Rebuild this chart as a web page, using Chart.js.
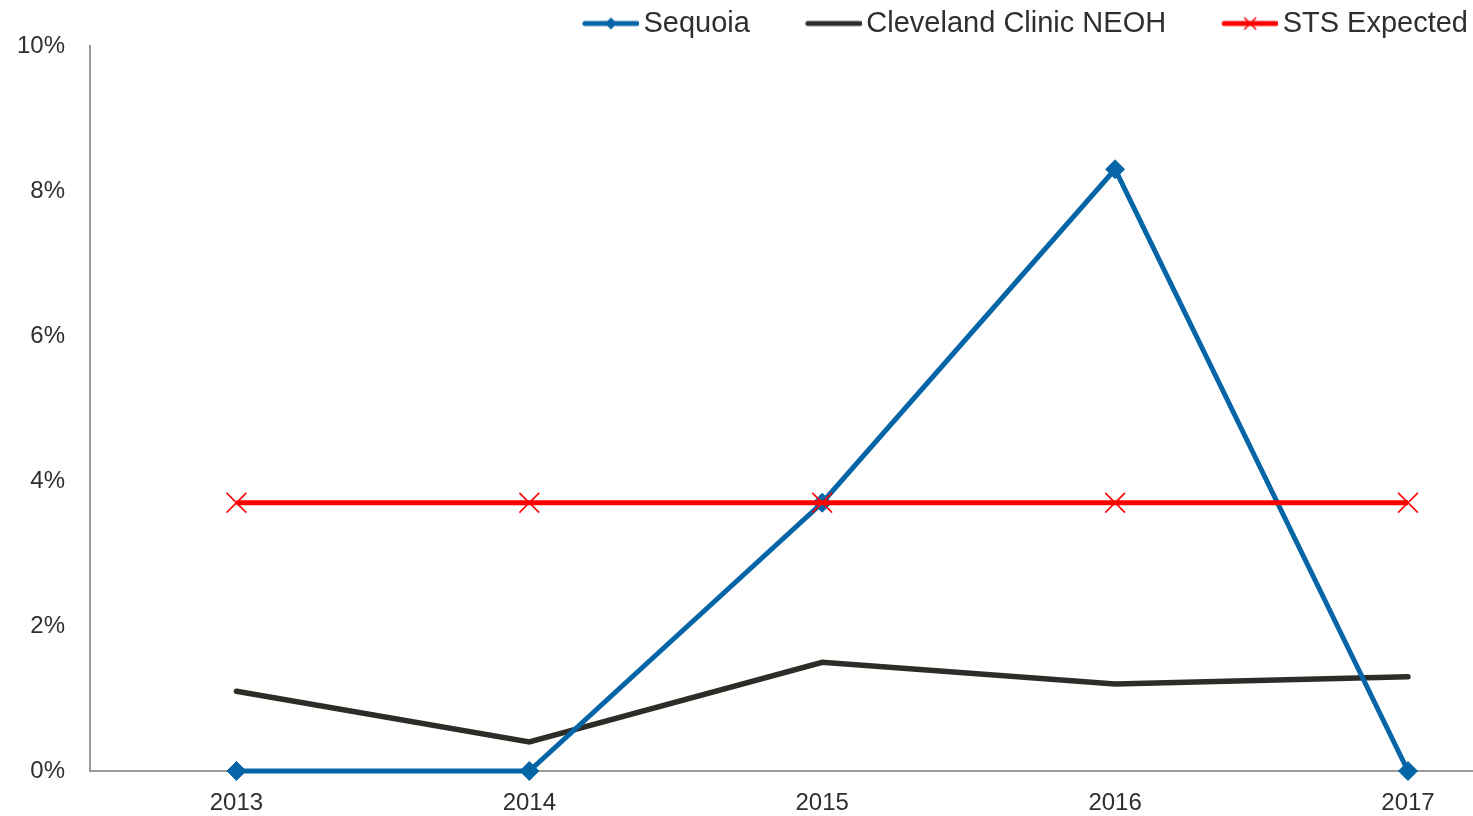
<!DOCTYPE html>
<html>
<head>
<meta charset="utf-8">
<script src="https://cdn.jsdelivr.net/npm/chart.js@4/dist/chart.umd.min.js"></script>
<style>
html,body{margin:0;padding:0;background:#fff;overflow:hidden;}
#wrap{width:1473px;height:816px;position:relative;}
</style>
</head>
<body>
<div id="wrap"><canvas id="c"></canvas></div>
<script>
const years = [2013, 2014, 2015, 2016, 2017];
const sequoia = [0, 0, 3.7, 8.3, 0];
const cleveland = [1.1, 0.4, 1.5, 1.2, 1.3];
const stsExpected = [3.7, 3.7, 3.7, 3.7, 3.7];
const yTicks = [0, 2, 4, 6, 8, 10];
const seriesNames = ['Sequoia', 'Cleveland Clinic NEOH', 'STS Expected'];

const BLUE = '#0565A7';
const DARK = '#2D2D28';
const RED = '#FF0000';
const TEXT = '#2F2F2F';
const AXIS = '#9A9A9A';
const FONT = "'Liberation Sans', Arial, sans-serif";

function pts(vals){ return years.map((y,i)=>({x:y, y:vals[i]})); }

function legendImg(color, marker){
  const W = 117, H = 24;
  const cv = document.createElement('canvas');
  cv.width = W; cv.height = H;
  const g = cv.getContext('2d');
  const x0 = 61, x1 = 117, cy = H/2;
  g.strokeStyle = color; g.lineWidth = 5; g.lineCap = 'round';
  g.beginPath(); g.moveTo(x0+2, cy); g.lineTo(x1-2, cy); g.stroke();
  const mx = (x0+x1)/2;
  if (marker === 'diamond') {
    g.fillStyle = color;
    g.beginPath(); g.moveTo(mx-6, cy); g.lineTo(mx, cy-6); g.lineTo(mx+6, cy); g.lineTo(mx, cy+6); g.closePath(); g.fill();
  } else if (marker === 'x') {
    g.lineWidth = 1.5; g.lineCap = 'butt';
    g.beginPath(); g.moveTo(mx-6, cy-6); g.lineTo(mx+6, cy+6); g.moveTo(mx+6, cy-6); g.lineTo(mx-6, cy+6); g.stroke();
  }
  return cv;
}
const legendImages = [legendImg(BLUE,'diamond'), legendImg(DARK,null), legendImg(RED,'x')];

const legendHeightTweak = {
  id: 'legendHeightTweak',
  afterInit(chart) {
    const lg = chart.legend;
    if (!lg) return;
    const orig = lg.fit;
    lg.fit = function () { orig.call(this); this.height -= 2; };
  }
};

new Chart(document.getElementById('c'), {
  type: 'line',
  data: {
    datasets: [
      { label: seriesNames[0], data: pts(sequoia), borderColor: BLUE, backgroundColor: BLUE, borderWidth: 5,
        pointStyle: 'rectRot', pointRadius: 9.5, pointBorderWidth: 1, pointBackgroundColor: BLUE, pointBorderColor: BLUE,
        order: 1, clip: false },
      { label: seriesNames[1], data: pts(cleveland), borderColor: DARK, backgroundColor: DARK, borderWidth: 5.5,
        pointRadius: 0, borderCapStyle: 'round', order: 2, clip: false },
      { label: seriesNames[2], data: pts(stsExpected), borderColor: RED, backgroundColor: RED, borderWidth: 5,
        pointStyle: 'crossRot', pointRadius: 14, pointBorderWidth: 1.5, pointBorderColor: RED, order: 0, clip: false }
    ]
  },
  plugins: [legendHeightTweak],
  options: {
    responsive: true,
    maintainAspectRatio: false,
    animation: false,
    layout: { autoPadding: false, padding: { top: 4, left: 0, right: 0, bottom: 0 } },
    plugins: {
      tooltip: { enabled: false },
      legend: {
        position: 'top',
        align: 'end',
        labels: {
          usePointStyle: true,
          pointStyleWidth: 97,
          padding: 5,
          color: TEXT,
          font: { family: FONT, size: 29 },
          sort: (a, b) => a.datasetIndex - b.datasetIndex,
          generateLabels: (chart) => {
            const items = Chart.defaults.plugins.legend.labels.generateLabels(chart);
            items.forEach((it) => { it.pointStyle = legendImages[it.datasetIndex]; });
            return items;
          }
        }
      }
    },
    scales: {
      x: {
        type: 'linear',
        min: 2012.5,
        max: 2017.222,
        grid: { display: false, drawTicks: false },
        border: { display: true, color: AXIS, width: 2 },
        afterBuildTicks: (s) => { s.ticks = years.map(v => ({ value: v })); },
        afterFit: (s) => { s.paddingLeft = 0; s.paddingRight = 0; s.height = 45; },
        ticks: { color: TEXT, font: { family: FONT, size: 24 }, padding: 18, maxRotation: 0, autoSkip: false,
          callback: (v) => String(v) }
      },
      y: {
        min: 0,
        max: 10,
        grid: { display: false, drawTicks: false },
        border: { display: true, color: AXIS, width: 2 },
        afterBuildTicks: (s) => { s.ticks = yTicks.map(v => ({ value: v })); },
        afterFit: (s) => { s.width = 90; s.paddingTop = 0; s.paddingBottom = 0; },
        ticks: { color: TEXT, font: { family: FONT, size: 24 }, padding: 25,
          callback: (v) => v + '%' }
      }
    }
  }
});
</script>
</body>
</html>
